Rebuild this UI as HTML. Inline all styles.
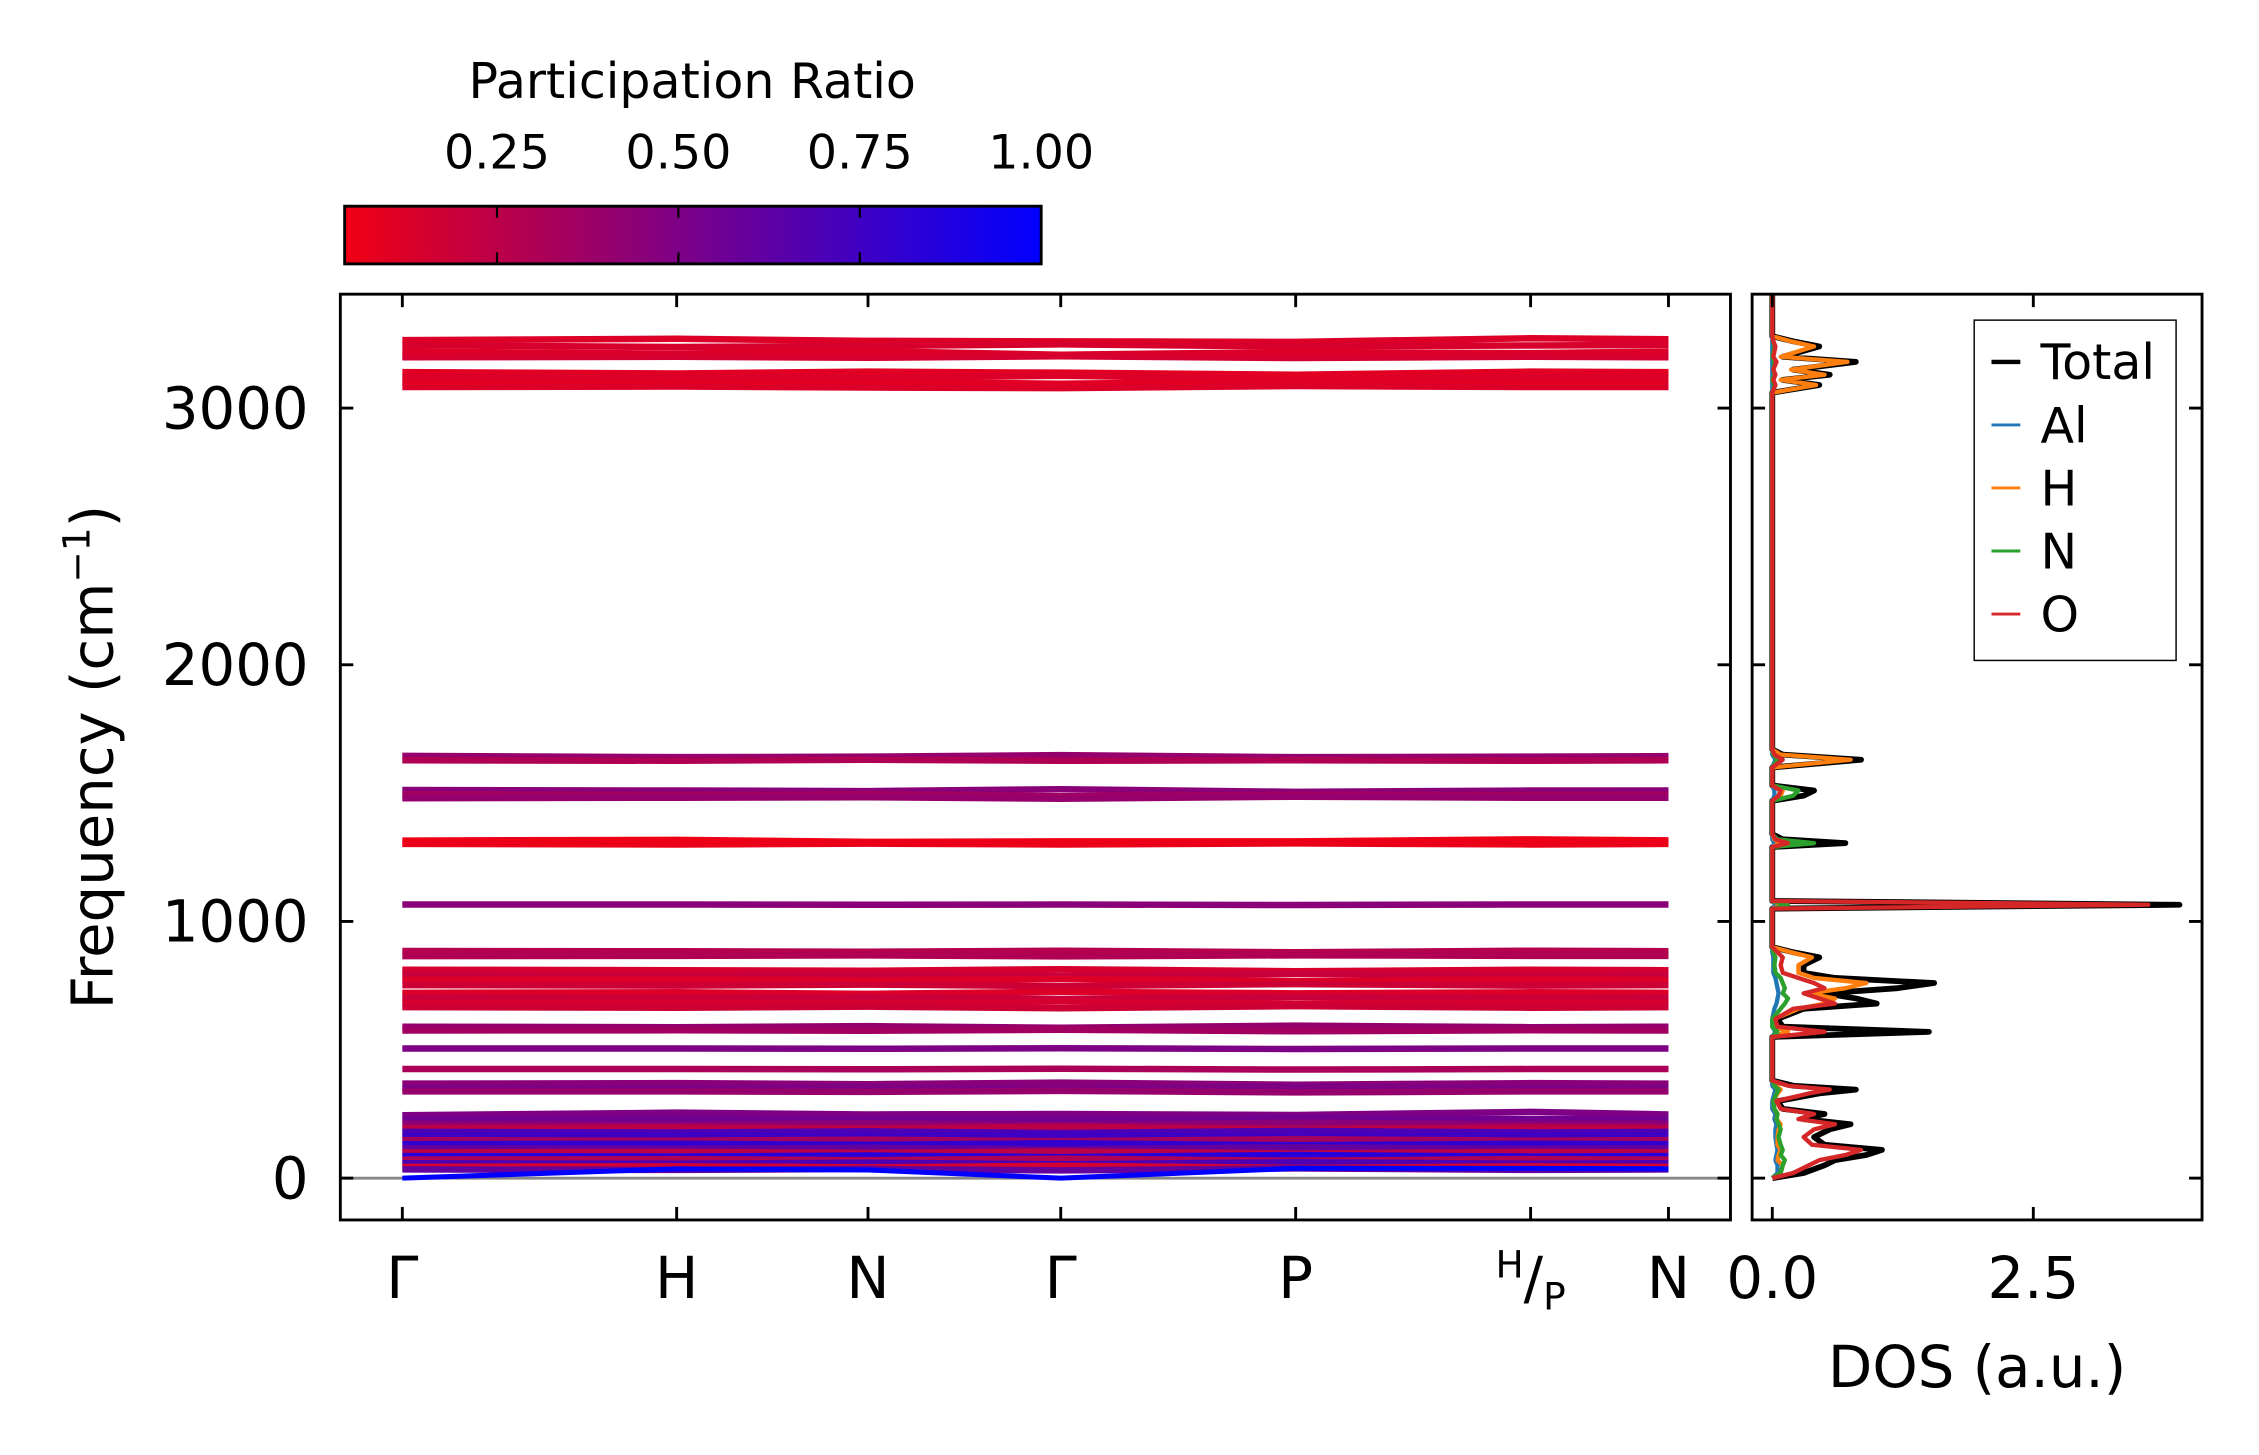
<!DOCTYPE html>
<html><head><meta charset="utf-8"><style>
html,body{margin:0;padding:0;background:#fff;}
svg{display:block;font-family:"DejaVu Sans","Liberation Sans",sans-serif;}
</style></head><body>
<svg id="c" width="2259" height="1455" viewBox="0 0 1566.5 1009" preserveAspectRatio="none"></svg>
<script>
// ---- data ----
const kLabels = ["Γ","H","N","Γ","P","H/P","N"];
const kPos = [0, 1.95, 3.31, 4.68, 6.35, 8.02, 9.0];
const yTicks = [0, 1000, 2000, 3000];
const cbTicks = [0.25, 0.50, 0.75, 1.00];
const cbTickLabels = ["0.25","0.50","0.75","1.00"];
const dosTicks = [0.0, 2.5];
const dosTickLabels = ["0.0","2.5"];
const bandFreqs = [
 [3265,3270,3262,3260,3258,3272,3268],[3245,3238,3242,3248,3240,3244,3246],
 [3220,3212,3222,3208,3218,3214,3220],[3198,3200,3196,3202,3195,3200,3198],
 [3140,3135,3142,3138,3130,3142,3140],[3120,3122,3118,3126,3112,3120,3118],
 [3100,3098,3102,3095,3104,3096,3100],[3082,3084,3080,3078,3086,3082,3082],
 [1645,1640,1642,1648,1640,1642,1644],[1628,1626,1630,1626,1628,1626,1628],
 [1512,1510,1508,1515,1505,1510,1510],[1495,1492,1496,1488,1494,1492,1494],
 [1480,1482,1484,1478,1486,1482,1482],
 [1315,1318,1310,1312,1312,1320,1316],[1302,1300,1303,1300,1304,1300,1302],
 [1066,1066,1065,1066,1064,1066,1066],
 [885,884,882,886,880,886,884],[865,866,868,864,868,866,866],
 [812,810,808,814,806,812,810],[792,790,794,788,796,790,792],
 [772,774,770,776,768,774,772],[752,750,754,748,756,750,752],
 [722,724,718,726,720,724,722],[702,700,704,698,706,700,702],
 [684,686,682,688,680,686,684],[666,664,668,662,670,664,666],
 [590,588,592,586,594,588,590],[575,576,574,578,572,576,575],
 [505,505,504,506,503,505,505],[425,425,424,426,423,425,425],
 [368,370,366,372,364,370,368],[352,350,354,348,356,350,352],[338,338,336,340,334,338,338],
 [245,255,248,250,246,258,248],[228,232,230,226,234,230,230],[212,208,214,206,216,210,212],
 [196,198,194,200,192,198,196],[180,178,182,176,184,178,180],[164,166,162,168,160,166,164],
 [148,146,150,144,152,146,148],[132,134,130,136,128,134,132],[116,114,118,112,120,114,116],
 [100,102,98,104,96,102,100],[86,84,88,82,90,84,86],[72,74,70,76,68,74,72],
 [58,56,60,54,62,56,58],[44,46,42,48,40,46,44],[34,32,36,30,38,32,34],
 [0,36,32,0,38,38,36]
];
const bandPR = [0.12,0.14,0.12,0.15,0.1,0.12,0.1,0.12,
 0.4,0.3,0.45,0.35,0.4,0.05,0.06,0.45,
 0.28,0.3,0.15,0.2,0.12,0.18,0.12,0.2,0.15,0.18,
 0.4,0.35,0.5,0.32,0.45,0.5,0.4,
 0.5,0.55,0.45,0.25,0.7,0.75,0.35,0.8,0.6,0.25,0.85,0.3,0.7,0.15,0.6,1.0];
const dosFreq = [0,20,50,70,90,110,130,160,190,210,230,250,270,300,330,345,360,380,550,570,590,620,660,680,700,720,740,760,780,800,830,860,880,900,1050,1065,1080,1290,1305,1320,1340,1470,1490,1510,1530,1600,1630,1650,1670,3060,3090,3110,3130,3150,3180,3200,3240,3260,3280,3444];
const dosTotal=[0,0.3,0.5,0.6,0.9,1.05,0.5,0.4,0.55,0.75,0.3,0.5,0.1,0.05,0.45,0.8,0.2,0,0,1.5,0.1,0.05,0.3,1.0,0.8,0.5,1.2,1.55,0.6,0.3,0.3,0.45,0.2,0,0,3.9,0,0,0.7,0.1,0,0,0.3,0.4,0,0,0.85,0.1,0,0,0.45,0.1,0.55,0.2,0.8,0.1,0.45,0.2,0,0];
const dosAl=[0,0.05,0.05,0.03,0.04,0.05,0.04,0.03,0.03,0.04,0.02,0.03,0,0,0.02,0.03,0,0,0,0.03,0,0,0.02,0.04,0.05,0.06,0.05,0.04,0.03,0.01,0.01,0.01,0,0,0,0.03,0,0,0.02,0,0,0,0.02,0.02,0,0,0.03,0,0,0,0,0,0,0,0,0,0,0,0,0];
const dosH=[0,0.08,0.1,0.05,0.06,0.08,0.05,0.05,0.06,0.08,0.04,0.05,0.02,0.01,0.05,0.08,0.03,0,0,0.15,0.02,0.02,0.25,0.5,0.6,0.35,0.7,0.9,0.4,0.25,0.25,0.38,0.18,0,0,0.1,0,0,0.08,0.02,0,0,0.08,0.1,0,0,0.75,0.08,0,0,0.42,0.08,0.5,0.18,0.72,0.08,0.4,0.18,0,0];
const dosN=[0,0.08,0.1,0.12,0.08,0.1,0.08,0.06,0.08,0.06,0.04,0.05,0.02,0.01,0.04,0.06,0.02,0,0,0.05,0,0,0.08,0.12,0.15,0.1,0.12,0.1,0.08,0.03,0.02,0.03,0.01,0,0,0.15,0,0,0.4,0.05,0,0,0.2,0.25,0,0,0.05,0.01,0,0,0.02,0,0.02,0.01,0.02,0,0.02,0.01,0,0];
const dosO=[0,0.2,0.35,0.45,0.7,0.85,0.38,0.3,0.4,0.6,0.25,0.4,0.08,0.04,0.35,0.55,0.15,0,0,0.5,0.05,0.03,0.2,0.6,0.45,0.3,0.5,0.4,0.25,0.1,0.08,0.1,0.05,0,0,3.6,0,0,0.15,0.03,0,0,0.06,0.08,0,0,0.1,0.02,0,0,0.03,0.01,0.03,0.01,0.04,0.01,0.03,0.01,0,0];
// ---- layout ----
const svg=document.getElementById('c');
const NS='http://www.w3.org/2000/svg';
function mk(t,a,p){const e=document.createElementNS(NS,t);for(const k in a)e.setAttribute(k,a[k]);(p||svg).appendChild(e);return e;}
const M={l:236,r:1200,t:204,b:846}, D={l:1215,r:1527};
const fy=v=>817-v*0.178;
const kx=k=>279+k*(1157-279)/9;
const dx=v=>1229+v*72.4;
const cbx=v=>239+(v-0.04)*(722-239)/0.96;
const col=p=>{const t=Math.max(0,Math.min(1,(p-0.04)/0.96));return `rgb(${Math.round(240*(1-t))},0,${Math.round(20+235*t)})`;};
function txt(s,x,y,sz,anchor,a){const t=mk('text',Object.assign({x:x,y:y,'font-size':sz,'text-anchor':anchor||'middle',fill:'#000'},a||{}));t.textContent=s;return t;}
// colorbar
const defs=mk('defs',{});
const g=mk('linearGradient',{id:'cg',x1:0,x2:1,y1:0,y2:0},defs);
[0,0.5,1].forEach(o=>mk('stop',{offset:o,'stop-color':col(0.04+o*0.96)},g));
let e=mk('rect',{x:239,y:143,width:483,height:40,fill:'url(#cg)',stroke:'#000','stroke-width':2});

cbTicks.forEach((v,i)=>{const x=cbx(v);
 if(i<3){mk('line',{x1:x,x2:x,y1:143,y2:151,stroke:'#000','stroke-width':1.5});mk('line',{x1:x,x2:x,y1:175,y2:183,stroke:'#000','stroke-width':1.5});}
 e=txt(cbTickLabels[i],x,117,33);
 });
e=txt('Participation Ratio',480,68,34,'middle');

// bands
const bg=mk('g',{});
mk('line',{x1:M.l,x2:M.r,y1:fy(0),y2:fy(0),stroke:'#888','stroke-width':2},bg);
bandFreqs.forEach((f,i)=>{
 const pts=f.map((v,j)=>kx(kPos[j])+','+fy(v)).join(' ');
 const p=mk('polyline',{points:pts,fill:'none',stroke:col(bandPR[i]),'stroke-width':i===bandFreqs.length-1?3.5:4.5,'stroke-linejoin':'round'},bg);
 });
// main axes frame
e=mk('rect',{x:M.l,y:M.t,width:M.r-M.l,height:M.b-M.t,fill:'none',stroke:'#000','stroke-width':2});

yTicks.forEach(v=>{const y=fy(v);
 mk('line',{x1:M.l,x2:M.l+9,y1:y,y2:y,stroke:'#000','stroke-width':2});
 mk('line',{x1:M.r-9,x2:M.r,y1:y,y2:y,stroke:'#000','stroke-width':2});
 mk('line',{x1:D.l,x2:D.l+9,y1:y,y2:y,stroke:'#000','stroke-width':2});
 mk('line',{x1:D.r-9,x2:D.r,y1:y,y2:y,stroke:'#000','stroke-width':2});
 e=txt(String(v),214,y+14,40,'end');
 });
kLabels.forEach((s,i)=>{const x=kx(kPos[i]);
 mk('line',{x1:x,x2:x,y1:M.t,y2:M.t+9,stroke:'#000','stroke-width':2});
 mk('line',{x1:x,x2:x,y1:M.b-9,y2:M.b,stroke:'#000','stroke-width':2});
 if(s==='H/P'){e=mk('text',{x:x,y:900,'font-size':40,'text-anchor':'middle'});
  e.innerHTML='<tspan font-size="26" dy="-14">H</tspan><tspan dy="14">/</tspan><tspan font-size="26" dy="8">P</tspan>';}
 else e=txt(s,x,900,40);
 });
e=mk('text',{x:0,y:0,'font-size':40,'text-anchor':'middle',transform:'translate(78,525) rotate(-90)'});
e.innerHTML='Frequency (cm<tspan font-size="26" dy="-16">−1</tspan><tspan dy="16">)</tspan>';

// DOS
const dg=mk('g',{});
const series=[[dosTotal,'#000',4,'dos-total'],[dosAl,'#1f77b4',3,'dos-al'],[dosH,'#ff7f0e',3,'dos-h'],[dosN,'#2ca02c',3,'dos-n'],[dosO,'#d62728',3,'dos-o']];
series.forEach(s=>{const pts=dosFreq.map((f,i)=>dx(s[0][i])+','+fy(f)).join(' ');
 const p=mk('polyline',{points:pts,fill:'none',stroke:s[1],'stroke-width':s[2],'stroke-linejoin':'round'},dg);
 });
e=mk('rect',{x:D.l,y:M.t,width:D.r-D.l,height:M.b-M.t,fill:'none',stroke:'#000','stroke-width':2});

dosTicks.forEach((v,i)=>{const x=dx(v);
 mk('line',{x1:x,x2:x,y1:M.t,y2:M.t+9,stroke:'#000','stroke-width':2});
 mk('line',{x1:x,x2:x,y1:M.b-9,y2:M.b,stroke:'#000','stroke-width':2});
 e=txt(dosTickLabels[i],x,900,40);
 });
e=txt('DOS (a.u.)',1371,962,40,'middle');

// legend
const lg=mk('g',{});
mk('rect',{x:1369,y:222,width:140,height:236,fill:'#fff',stroke:'#000','stroke-width':1},lg);
[['Total','#000'],['Al','#1f77b4'],['H','#ff7f0e'],['N','#2ca02c'],['O','#d62728']].forEach((s,i)=>{const y=251+i*43.7;
 const it=mk('g',{},lg);
 mk('line',{x1:1381,x2:1401,y1:y,y2:y,stroke:s[1],'stroke-width':s[0]==='Total'?3:2},it);
 const t=mk('text',{x:1415,y:y+12,'font-size':34},it);t.textContent=s[0];});
</script>
</body></html>
